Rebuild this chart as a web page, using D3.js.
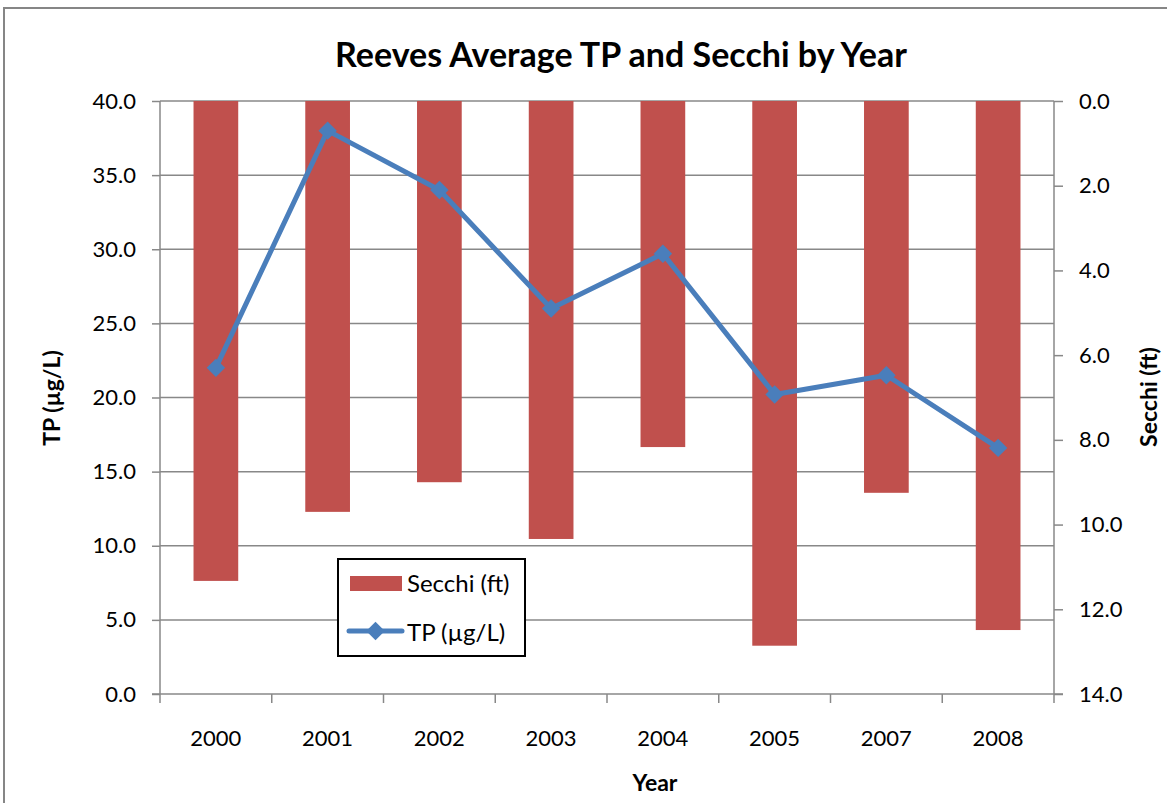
<!DOCTYPE html>
<html>
<head>
<meta charset="utf-8">
<script src="https://cdn.jsdelivr.net/npm/d3@7"></script>
<style>
  body { margin: 0; background: #fff; }
  svg text { font-family: Lato, "Open Sans", sans-serif; fill: #000; }
</style>
</head>
<body>
<svg id="chart" width="1167" height="803"></svg>
<script>
// data
const years = ["2000", "2001", "2002", "2003", "2004", "2005", "2007", "2008"];
const secchi = [11.33, 9.70, 9.00, 10.34, 8.17, 12.86, 9.25, 12.49];
const tp = [22.0, 38.0, 34.0, 26.0, 29.7, 20.2, 21.5, 16.6];
const tpTicks = [0, 5, 10, 15, 20, 25, 30, 35, 40];
const secchiTicks = [0, 2, 4, 6, 8, 10, 12, 14];

const svg = d3.select("#chart");
const W = 1167, H = 803;
const plot = { left: 160, right: 1054, top: 101, bottom: 694 };

const gridColor = "#888888";
const barColor = "#C0504D";
const lineColor = "#4A7EBB";

// outer chart border (runs past right/bottom of the picture)
svg.append("rect")
    .attr("x", 4).attr("y", 8)
    .attr("width", W + 10).attr("height", H + 10)
    .attr("fill", "#fff")
    .attr("stroke", "#868686").attr("stroke-width", 2);

// scales
const x = d3.scaleBand()
    .domain(years)
    .range([plot.left, plot.right])
    .paddingInner(0.6)
    .paddingOuter(0.3);

const yL = d3.scaleLinear().domain([0, 40]).range([plot.bottom, plot.top]);
const yR = d3.scaleLinear().domain([0, 14]).range([plot.top, plot.bottom]);

// gridlines
svg.append("g")
    .selectAll("line")
    .data(tpTicks.filter(d => d > 0))
    .join("line")
    .attr("x1", plot.left).attr("x2", plot.right)
    .attr("y1", d => yL(d)).attr("y2", d => yL(d))
    .attr("stroke", gridColor).attr("stroke-width", 1.5);

// bars (hanging from top since right axis is reversed)
svg.append("g")
    .selectAll("rect")
    .data(years.map((y, i) => ({ year: y, v: secchi[i] })))
    .join("rect")
    .attr("x", d => x(d.year))
    .attr("width", x.bandwidth())
    .attr("y", yR(0))
    .attr("height", d => yR(d.v) - yR(0))
    .attr("fill", barColor);

// left axis
const axisL = d3.axisLeft(yL).tickValues(tpTicks).tickFormat(d3.format(".1f"))
    .tickSize(8).tickPadding(16);
const gL = svg.append("g").attr("transform", `translate(${plot.left},0)`).call(axisL);

// right axis
const axisR = d3.axisRight(yR).tickValues(secchiTicks).tickFormat(d3.format(".1f"))
    .tickSize(9).tickPadding(16);
const gR = svg.append("g").attr("transform", `translate(${plot.right},0)`).call(axisR);

// bottom axis: ticks on category boundaries
const gB = svg.append("g").attr("transform", `translate(0,${plot.bottom})`);
gB.append("line")
    .attr("x1", plot.left - 8).attr("x2", plot.right + 9)
    .attr("stroke", gridColor).attr("stroke-width", 1.5);
gB.selectAll("line.tk")
    .data(d3.range(years.length + 1))
    .join("line")
    .attr("class", "tk")
    .attr("x1", i => plot.left + i * x.step())
    .attr("x2", i => plot.left + i * x.step())
    .attr("y1", 0).attr("y2", 9)
    .attr("stroke", gridColor).attr("stroke-width", 1.5);
gB.selectAll("text")
    .data(years)
    .join("text")
    .attr("x", d => x(d) + x.bandwidth() / 2)
    .attr("y", 52)
    .attr("text-anchor", "middle")
    .attr("font-size", 22)
    .text(d => d);

[gL, gR].forEach(g => {
    g.select(".domain").attr("stroke", gridColor).attr("stroke-width", 1.5);
    g.selectAll(".tick line").attr("stroke", gridColor).attr("stroke-width", 1.5);
    g.selectAll(".tick text").attr("font-size", 22).attr("font-family", "Lato, sans-serif").attr("fill", "#000");
});
gL.select(".domain").attr("d", `M0,${plot.top}V${plot.bottom}`);
gR.select(".domain").attr("d", `M0,${plot.top}V${plot.bottom}`);

// TP line
const tpData = years.map((y, i) => ({ year: y, v: tp[i] }));
const line = d3.line()
    .x(d => x(d.year) + x.bandwidth() / 2)
    .y(d => yL(d.v));

svg.append("path")
    .datum(tpData)
    .attr("d", line)
    .attr("fill", "none")
    .attr("stroke", lineColor)
    .attr("stroke-width", 5)
    .attr("stroke-linejoin", "round");

const diamond = d3.symbol().type(d3.symbolSquare).size(170);
svg.append("g")
    .selectAll("path")
    .data(tpData)
    .join("path")
    .attr("d", diamond)
    .attr("transform", d => `translate(${x(d.year) + x.bandwidth() / 2},${yL(d.v)}) rotate(45)`)
    .attr("fill", lineColor);

// title
svg.append("text")
    .attr("x", 621).attr("y", 67)
    .attr("text-anchor", "middle")
    .attr("font-size", 34).attr("font-weight", "bold")
    .text("Reeves Average TP and Secchi by Year");

// axis titles
svg.append("text")
    .attr("transform", "translate(60,398) rotate(-90)")
    .attr("text-anchor", "middle")
    .attr("font-size", 23).attr("font-weight", "bold")
    .text("TP (µg/L)");

svg.append("text")
    .attr("transform", "translate(1157,397) rotate(-90)")
    .attr("text-anchor", "middle")
    .attr("font-size", 23).attr("font-weight", "bold")
    .text("Secchi (ft)");

svg.append("text")
    .attr("x", 655).attr("y", 791)
    .attr("text-anchor", "middle")
    .attr("font-size", 23).attr("font-weight", "bold")
    .text("Year");

// legend
const lg = svg.append("g");
lg.append("rect")
    .attr("x", 338).attr("y", 559)
    .attr("width", 187).attr("height", 97)
    .attr("fill", "#fff").attr("stroke", "#000").attr("stroke-width", 2);
lg.append("rect")
    .attr("x", 350).attr("y", 576)
    .attr("width", 52).attr("height", 15)
    .attr("fill", barColor);
lg.append("text")
    .attr("x", 407).attr("y", 592)
    .attr("font-size", 24)
    .text("Secchi (ft)");
lg.append("line")
    .attr("x1", 349).attr("x2", 402)
    .attr("y1", 631).attr("y2", 631)
    .attr("stroke", lineColor).attr("stroke-width", 5)
    .attr("stroke-linecap", "round");
lg.append("path")
    .attr("d", diamond)
    .attr("transform", "translate(375.5,631) rotate(45)")
    .attr("fill", lineColor);
lg.append("text")
    .attr("x", 407).attr("y", 641)
    .attr("font-size", 24)
    .text("TP (µg/L)");
</script>
</body>
</html>
